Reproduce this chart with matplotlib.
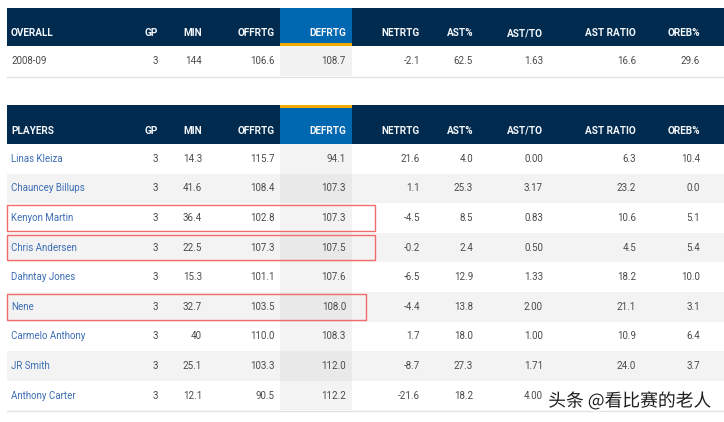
import matplotlib.pyplot as plt
import matplotlib.patheffects as pe
from matplotlib.patches import Rectangle

# table data
columns = ["GP", "MIN", "OFFRTG", "DEFRTG", "NETRTG", "AST%", "AST/TO", "AST RATIO", "OREB%"]
overall_label = "2008-09"
overall_values = ["3", "144", "106.6", "108.7", "-2.1", "62.5", "1.63", "16.6", "29.6"]

players = ["Linas Kleiza", "Chauncey Billups", "Kenyon Martin", "Chris Andersen",
           "Dahntay Jones", "Nene", "Carmelo Anthony", "JR Smith", "Anthony Carter"]
gp = ["3", "3", "3", "3", "3", "3", "3", "3", "3"]
minutes = ["14.3", "41.6", "36.4", "22.5", "15.3", "32.7", "40", "25.1", "12.1"]
offrtg = ["115.7", "108.4", "102.8", "107.3", "101.1", "103.5", "110.0", "103.3", "90.5"]
defrtg = ["94.1", "107.3", "107.3", "107.5", "107.6", "108.0", "108.3", "112.0", "112.2"]
netrtg = ["21.6", "1.1", "-4.5", "-0.2", "-6.5", "-4.4", "1.7", "-8.7", "-21.6"]
ast_pct = ["4.0", "25.3", "8.5", "2.4", "12.9", "13.8", "18.0", "27.3", "18.2"]
ast_to = ["0.00", "3.17", "0.83", "0.50", "1.33", "2.00", "1.00", "1.71", "4.00"]
ast_ratio = ["6.3", "23.2", "10.6", "4.5", "18.2", "21.1", "10.9", "24.0", ""]  # last one hidden by watermark
oreb_pct = ["10.4", "0.0", "5.1", "5.4", "10.0", "3.1", "6.4", "3.7", ""]
highlighted = ["Kenyon Martin", "Chris Andersen", "Nene"]

player_cols = [gp, minutes, offrtg, defrtg, netrtg, ast_pct, ast_to, ast_ratio, oreb_pct]

# layout (pixels)
W, H = 724, 422
col_right = [158, 202, 275, 346, 420, 473, 543, 636, 700]
left, right = 7, 724
def_x0, def_x1 = 280, 352
navy = "#002b4f"
blue = "#0067b1"
gold = "#f4a900"
name_color = "#3d6eb4"
num_color = "#4a4a4a"
hdr_font = dict(family="Roboto", fontsize=7.2, fontweight="bold", color="#f4f6f9")
cell_font = dict(family="Roboto", fontsize=7, color=num_color)

fig = plt.figure(figsize=(W / 100, H / 100), dpi=100)
ax = fig.add_axes([0, 0, 1, 1])
ax.set_xlim(0, W)
ax.set_ylim(H, 0)
ax.axis("off")


def header(y0, y1, title, gold_top):
    ax.add_patch(Rectangle((left, y0), right - left, y1 - y0, color=navy, lw=0))
    ax.add_patch(Rectangle((def_x0, y0), def_x1 - def_x0, y1 - y0, color=blue, lw=0))
    gy = y0 if gold_top else y1 - 3
    ax.add_patch(Rectangle((def_x0, gy), def_x1 - def_x0, 3, color=gold, lw=0))
    ym = y0 + (y1 - y0) * 0.66
    ax.text(11, ym, title, ha="left", va="center", **hdr_font)
    for c, x in zip(columns, col_right):
        ax.text(x, ym, c, ha="right", va="center", **hdr_font)


# overall table
header(8, 46, "OVERALL", gold_top=False)
ax.add_patch(Rectangle((def_x0, 46), def_x1 - def_x0, 30, color="#f2f2f2", lw=0))
ax.plot([left, right], [76.5, 76.5], color="#e2e2e2", lw=1)
ax.text(11, 61, overall_label, ha="left", va="center", **cell_font)
for v, x in zip(overall_values, col_right):
    ax.text(x, 61, v, ha="right", va="center", **cell_font)

# players table
header(105, 144, "PLAYERS", gold_top=True)
row_h = 29.6
top = 144
for i, name in enumerate(players):
    y0 = top + i * row_h
    shade = i % 2 == 1
    if shade:
        ax.add_patch(Rectangle((left, y0), right - left, row_h, color="#f3f3f3", lw=0))
    ax.add_patch(Rectangle((def_x0, y0), def_x1 - def_x0, row_h,
                           color="#e9e9e9" if shade else "#f3f3f3", lw=0))
    yc = y0 + row_h / 2
    ax.text(11, yc, name, ha="left", va="center", family="Roboto", fontsize=7, color=name_color)
    for col, x in zip(player_cols, col_right):
        ax.text(x, yc, col[i], ha="right", va="center", **cell_font)
    if name in highlighted:
        rx1 = 366 if name == "Nene" else 375
        ax.add_patch(Rectangle((left, y0 + 2), rx1 - left, row_h - 4, fill=False,
                               ec="#f26b6b", lw=1.0))
ax.plot([left, right], [top + len(players) * row_h + 0.5] * 2, color="#e2e2e2", lw=1)

# watermark
ax.text(711, 401, "头条 @看比赛的老人", ha="right", va="center", fontsize=12.8,
        family=["Noto Sans CJK SC", "DejaVu Sans"], color="#1e1e1e",
        path_effects=[pe.withStroke(linewidth=3, foreground="white")])

fig.savefig("out.png", dpi=100)
